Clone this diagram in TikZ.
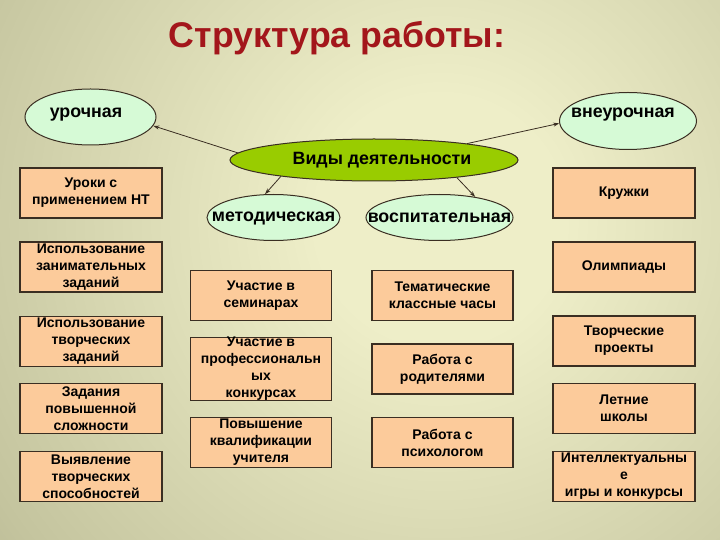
\documentclass[tikz,border=0pt]{standalone}
\usepackage{fontspec}
\setmainfont{Liberation Sans}
\usetikzlibrary{shapes.geometric,arrows.meta}
\definecolor{bgin}{HTML}{EEEEC8}
\definecolor{bgmid}{HTML}{C4C49E}
\definecolor{bgout}{HTML}{76765A}
\definecolor{peach}{HTML}{FCCB9B}
\definecolor{mint}{HTML}{D6FAD6}
\definecolor{lime}{HTML}{99CC00}
\definecolor{ttl}{HTML}{A3161B}
\definecolor{edge}{HTML}{3A2E22}
\pgfdeclareradialshading{bgshade}{\pgfpoint{0bp}{0bp}}{color(0bp)=(bgin); color(5bp)=(bgin); color(21bp)=(bgmid); color(42bp)=(bgout); color(50bp)=(bgout)}
\begin{document}
\begin{tikzpicture}[x=1bp,y=-1bp,
  box/.style={draw=edge,line width=1.1bp,fill=peach,rectangle,minimum width=142bp,minimum height=50bp,inner sep=0pt,align=center,font=\fontsize{14bp}{17bp}\selectfont\bfseries},
  oval/.style={draw=edge,line width=1bp,fill=mint,ellipse,inner sep=0pt},
  otext/.style={font=\fontsize{17.8bp}{20bp}\selectfont\bfseries,inner sep=0pt},
  arr/.style={draw=edge,line width=0.8bp,-{Stealth[length=6bp,width=4bp]}}]
\useasboundingbox (0,0) rectangle (720,540);
\begin{scope}
\clip (0,0) rectangle (720,540);
\shade[shading=bgshade] (440,220) circle (620);
\end{scope}
\node[text=ttl,font=\fontsize{35.7bp}{40bp}\selectfont\bfseries] (title) at (337,38) {Структура работы:};
% ellipses
\node[oval,minimum width=131bp,minimum height=56bp] (uro) at (90.5,117) {};
\node[otext] (urot) at (86,115) {урочная};
\node[oval,minimum width=137bp,minimum height=57bp] (vne) at (628,121) {};
\node[otext] (vnet) at (623,115) {внеурочная};
\node[oval,fill=lime,minimum width=288bp,minimum height=42bp] (vid) at (374,160) {};
\node[otext] (vidt) at (382,160) {Виды деятельности};
\node[oval,minimum width=133bp,minimum height=46bp] (met) at (273.5,217.5) {};
\node[otext] (mett) at (273.5,218) {методическая};
\node[oval,minimum width=147bp,minimum height=46bp] (vos) at (439.5,217.5) {};
\node[otext] (vost) at (439.5,218) {воспитательная};
% arrows
\draw[arr] (vid.177) -- (uro.-8);
\draw[arr] (vid.10) -- (vne.182);
\draw[arr] (vid.190) -- (met.110);
\draw[arr] (vid.-12) -- (vos.30);
% left column
\node[box,text depth=4bp] (l1) at (91,193) {Уроки с\\применением НТ};
\node[box] (l2) at (91,267) {Использование\\занимательных\\заданий};
\node[box] (l3) at (91,341.5) {Использование\\творческих\\заданий};
\node[box] (l4) at (91,408.5) {Задания\\повышенной\\сложности};
\node[box] (l5) at (91,476.5) {Выявление\\творческих\\способностей};
% middle left
\node[box,minimum width=141bp] (m1) at (261,295.5) {Участие в\\семинарах};
\node[box,minimum width=141bp] (m2) at (261,369) {Участие в\\профессиональн\\ых\\конкурсах};
\node[box,minimum width=141bp] (m3) at (261,442.5) {Повышение\\квалификации\\учителя};
% middle right
\node[box,minimum width=141bp] (r1) at (442.5,295.5) {Тематические\\классные часы};
\node[box,minimum width=141bp] (r2) at (442.5,369) {Работа с\\родителями};
\node[box,minimum width=141bp] (r3) at (442.5,442.5) {Работа с\\психологом};
% right column
\node[box] (q1) at (624,193) {Кружки};
\node[box] (q2) at (624,267) {Олимпиады};
\node[box] (q3) at (624,341) {Творческие\\проекты};
\node[box] (q4) at (624,408.5) {Летние\\школы};
\node[box] (q5) at (624,476.5) {Интеллектуальны\\е\\игры и конкурсы};
\end{tikzpicture}
\end{document}
